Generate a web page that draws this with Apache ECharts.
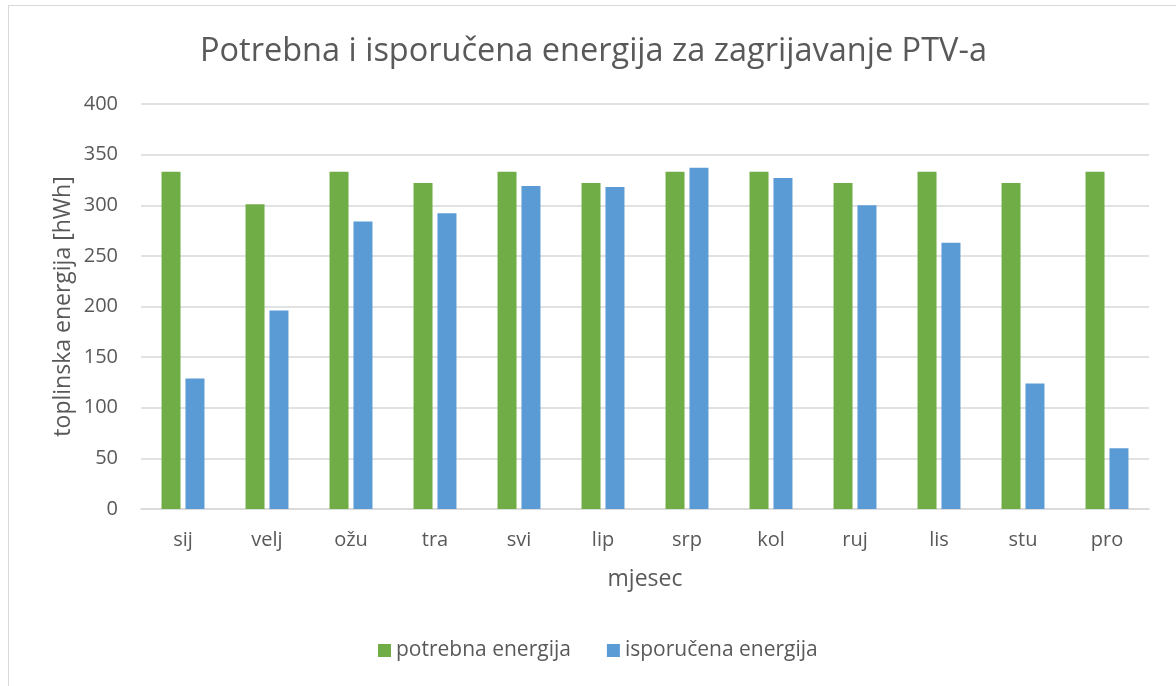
<!DOCTYPE html>
<html>
<head>
<meta charset="utf-8">
<script src="https://cdn.jsdelivr.net/npm/echarts@6/dist/echarts.min.js"></script>
<style>
  html, body { margin: 0; padding: 0; background: #fff; overflow: hidden; }
  #frame { position: absolute; left: 8px; top: 5px; width: 1200px; height: 720px; border: 1px solid #d9d9d9; }
  #chart { position: absolute; left: 0; top: 0; width: 1176px; height: 686px; }
</style>
</head>
<body>
<div id="frame"></div>
<div id="chart"></div>
<script>
const months = ['sij', 'velj', 'ožu', 'tra', 'svi', 'lip', 'srp', 'kol', 'ruj', 'lis', 'stu', 'pro']
const potrebna = [333, 301, 333, 322, 333, 322, 333, 333, 322, 333, 322, 333]
const isporucena = [129, 196, 284, 292, 319, 318, 337, 327, 300, 263, 124, 60]
const yTicks = { min: 0, max: 400, interval: 50 }

const textColor = '#595959'
const font = 'Open Sans'

const chart = echarts.init(document.getElementById('chart'), null, { renderer: 'canvas' })

chart.setOption({
  animation: false,
  color: ['#70AD47', '#5B9BD5'],
  title: {
    text: 'Potrebna i isporučena energija za zagrijavanje PTV-a',
    left: 195,
    top: 30,
    textStyle: { color: textColor, fontFamily: font, fontSize: 32.5, fontWeight: 'normal' }
  },
  legend: {
    bottom: 20,
    left: 373,
    itemWidth: 13,
    itemHeight: 13,
    itemGap: 36,
    icon: 'rect',
    textStyle: { color: textColor, fontFamily: font, fontSize: 21 },
    data: ['potrebna energija', 'isporučena energija']
  },
  grid: {
    left: 141,
    right: 27,
    top: 104,
    bottom: 177
  },
  xAxis: {
    type: 'category',
    data: months,
    name: 'mjesec',
    nameLocation: 'middle',
    nameGap: 59,
    nameTextStyle: { color: textColor, fontFamily: font, fontSize: 23 },
    axisLine: { show: true, lineStyle: { color: '#d9d9d9', width: 1.5 } },
    axisTick: { show: false },
    axisLabel: { color: textColor, fontFamily: font, fontSize: 20, margin: 21 }
  },
  yAxis: {
    type: 'value',
    min: yTicks.min,
    max: yTicks.max,
    interval: yTicks.interval,
    name: 'toplinska energija [hWh]',
    nameLocation: 'middle',
    nameGap: 66,
    nameMoveOverlap: false,
    nameTextStyle: { color: textColor, fontFamily: font, fontSize: 23 },
    axisLine: { show: false },
    axisTick: { show: false },
    axisLabel: { color: textColor, fontFamily: font, fontSize: 20, margin: 23 },
    splitLine: { show: true, lineStyle: { color: '#d9d9d9', width: 1.5 } }
  },
  series: [
    {
      name: 'potrebna energija',
      type: 'bar',
      data: potrebna,
      barWidth: 19,
      barGap: '26%'
    },
    {
      name: 'isporučena energija',
      type: 'bar',
      data: isporucena,
      barWidth: 19,
      barGap: '26%'
    }
  ]
})
</script>
</body>
</html>
